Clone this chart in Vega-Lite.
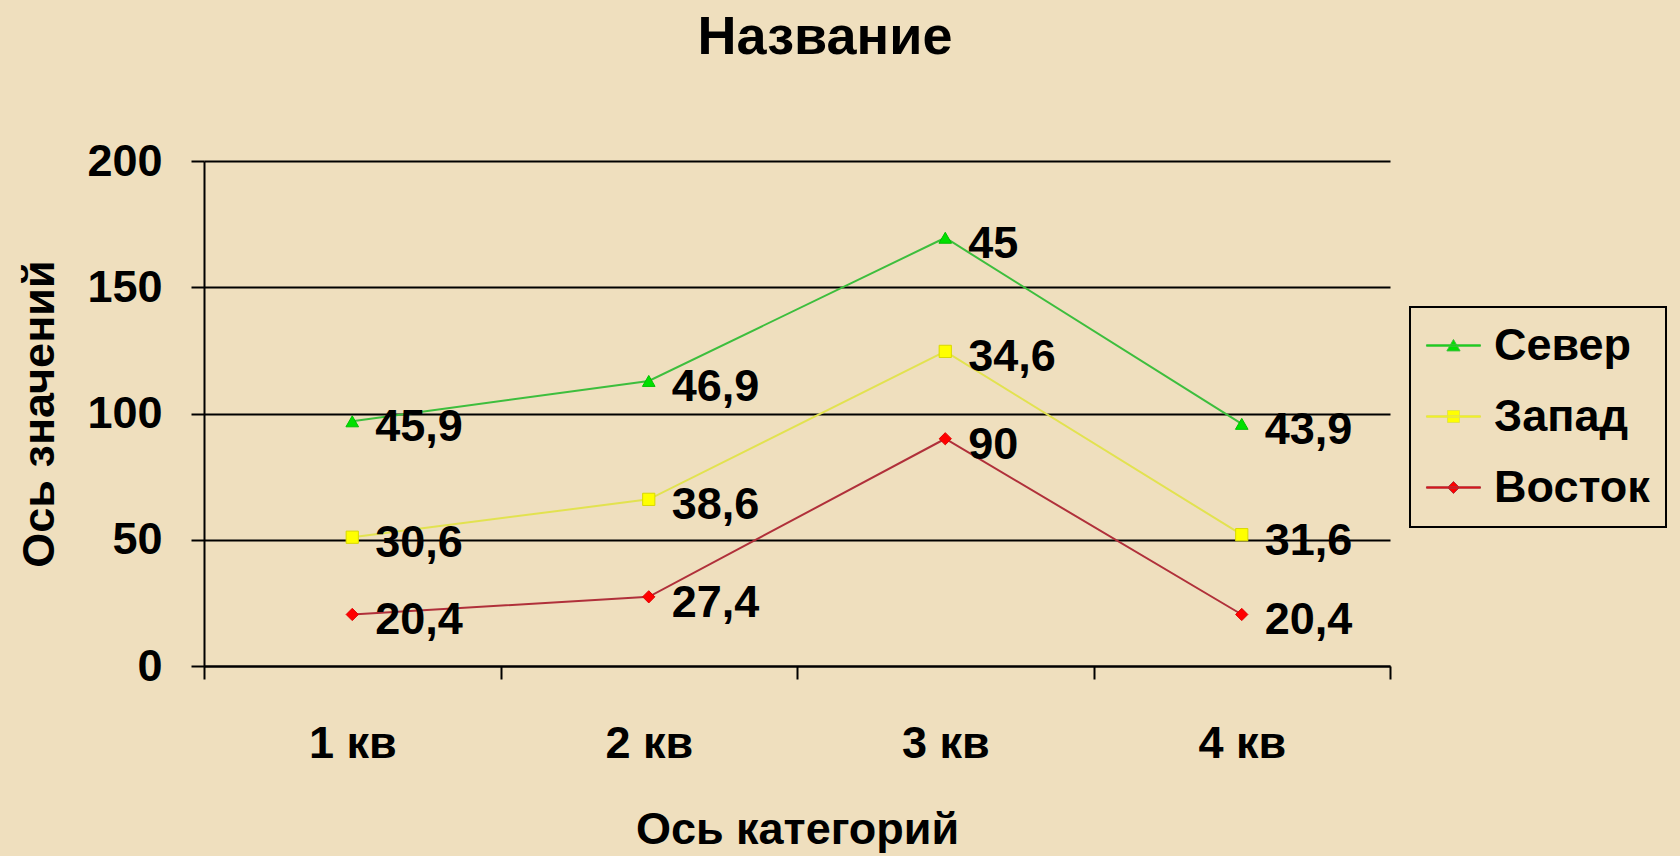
{
  "$schema": "https://vega.github.io/schema/vega-lite/v6.json",
  "autosize": "none",
  "width": 1186,
  "height": 505,
  "padding": {"left": 204, "top": 161, "right": 290, "bottom": 190},
  "background": "#EFDFBE",
  "config": {
    "font": "Liberation Sans",
    "view": {"stroke": null},
    "locale": {"number": {"decimal": ",", "thousands": " ", "grouping": [3], "currency": ["", ""]}}
  },
  "title": {
    "text": "Название",
    "fontSize": 54,
    "fontWeight": "bold",
    "color": "black",
    "anchor": "middle",
    "frame": "group",
    "baseline": "alphabetic",
    "dx": 28,
    "offset": 31
  },
  "data": {
    "values": [
      {"q": "1 кв", "series": "Восток", "ord": 1, "value": 20.4},
      {"q": "2 кв", "series": "Восток", "ord": 1, "value": 27.4},
      {"q": "3 кв", "series": "Восток", "ord": 1, "value": 90},
      {"q": "4 кв", "series": "Восток", "ord": 1, "value": 20.4},
      {"q": "1 кв", "series": "Запад", "ord": 2, "value": 30.6},
      {"q": "2 кв", "series": "Запад", "ord": 2, "value": 38.6},
      {"q": "3 кв", "series": "Запад", "ord": 2, "value": 34.6},
      {"q": "4 кв", "series": "Запад", "ord": 2, "value": 31.6},
      {"q": "1 кв", "series": "Север", "ord": 3, "value": 45.9},
      {"q": "2 кв", "series": "Север", "ord": 3, "value": 46.9},
      {"q": "3 кв", "series": "Север", "ord": 3, "value": 45},
      {"q": "4 кв", "series": "Север", "ord": 3, "value": 43.9}
    ]
  },
  "transform": [
    {"stack": "value", "groupby": ["q"], "sort": [{"field": "ord", "order": "ascending"}], "as": ["y0", "y1"]}
  ],
  "encoding": {
    "x": {
      "field": "q",
      "type": "nominal",
      "sort": ["1 кв", "2 кв", "3 кв", "4 кв"],
      "scale": {"type": "band", "paddingInner": 0, "paddingOuter": 0},
      "axis": {
        "title": "Ось категорий",
        "titleFontSize": 45,
        "titleFontWeight": "bold",
        "titleColor": "black",
        "titlePadding": 41,
        "labelAngle": 0,
        "labelFontSize": 45,
        "labelFontWeight": "bold",
        "labelColor": "black",
        "labelPadding": 42,
        "tickBand": "extent",
        "tickSize": 13,
        "tickColor": "black",
        "tickWidth": 2,
        "domainColor": "black",
        "domainWidth": 2,
        "grid": false
      }
    },
    "y": {
      "field": "y1",
      "type": "quantitative",
      "scale": {"domain": [0, 200], "nice": false},
      "axis": {
        "title": "Ось значений",
        "titleFontSize": 45,
        "titleFontWeight": "bold",
        "titleColor": "black",
        "titlePadding": 24,
        "values": [0, 50, 100, 150, 200],
        "labelFontSize": 45,
        "labelFontWeight": "bold",
        "labelColor": "black",
        "labelPadding": 29,
        "tickSize": 13,
        "tickColor": "black",
        "tickWidth": 2,
        "domainColor": "black",
        "domainWidth": 2,
        "grid": true,
        "gridColor": "black",
        "gridWidth": 2,
        "gridOpacity": 1,
        "format": "d"
      }
    }
  },
  "layer": [
    {
      "mark": {"type": "line", "strokeWidth": 2},
      "encoding": {
        "stroke": {
          "field": "series",
          "type": "nominal",
          "scale": {"domain": ["Север", "Запад", "Восток"], "range": ["#3DBE3D", "#E2E250", "#B0303A"]},
          "legend": {
            "title": null,
            "orient": "none",
            "legendX": 1206,
            "legendY": 146,
            "strokeColor": "black",
            "padding": 16,
            "labelFontSize": 45,
            "labelFontWeight": "bold",
            "labelColor": "black",
            "labelOffset": 23,
            "rowPadding": 25,
            "symbolSize": 144,
            "symbolStrokeWidth": 2,
            "encode": {
              "legend": {"update": {"strokeWidth": {"value": 2}}},
              "symbols": {
                "update": {
                  "shape": {"signal": "datum.value === 'Север' ? 'M-3.67,-0.12L5.33,-0.12L5.33,0.12L-3.67,0.12ZM0.83,-1L1.93,0.9L-0.27,0.9Z' : datum.value === 'Запад' ? 'M-3.67,-0.12L5.33,-0.12L5.33,0.12L-3.67,0.12ZM-0.17,-1L1.83,-1L1.83,1L-0.17,1Z' : 'M-3.67,-0.12L5.33,-0.12L5.33,0.12L-3.67,0.12ZM0.83,-1L1.83,0L0.83,1L-0.17,0Z'"},
                  "fill": {"signal": "datum.value === 'Север' ? '#00E000' : datum.value === 'Запад' ? '#FFFF00' : '#FF0000'"},
                  "stroke": {"signal": "datum.value === 'Север' ? '#3DBE3D' : datum.value === 'Запад' ? '#E2E250' : '#B0303A'"},
                  "strokeWidth": {"value": 1},
                  "strokeOpacity": {"value": 1},
                  "fillOpacity": {"value": 1},
                  "opacity": {"value": 1}
                }
              }
            }
          }
        }
      }
    },
    {
      "transform": [{"filter": "datum.series === 'Север'"}],
      "mark": {"type": "point", "shape": "triangle-up", "filled": true, "fill": "#00E000", "stroke": "#00C000", "strokeWidth": 1, "opacity": 1, "size": 160}
    },
    {
      "transform": [{"filter": "datum.series === 'Запад'"}],
      "mark": {"type": "point", "shape": "square", "filled": true, "fill": "#FFFF00", "stroke": "#D8D800", "strokeWidth": 1, "opacity": 1, "size": 150}
    },
    {
      "transform": [{"filter": "datum.series === 'Восток'"}],
      "mark": {"type": "point", "shape": "diamond", "filled": true, "fill": "#FF0000", "stroke": "#E00000", "strokeWidth": 1, "opacity": 1, "size": 150}
    },
    {
      "mark": {"type": "text", "align": "left", "baseline": "alphabetic", "dx": 23, "dy": 20, "fontSize": 45, "fontWeight": "bold", "color": "black"},
      "encoding": {
        "text": {"field": "value", "type": "quantitative", "format": "~g"}
      }
    }
  ]
}
